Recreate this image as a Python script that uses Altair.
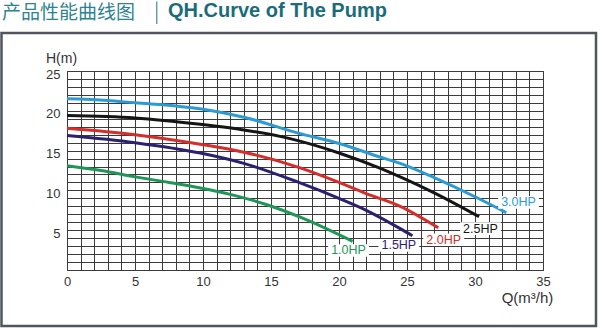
import altair as alt
import pandas as pd

# ---- data ----
series_names = ["3.0HP", "2.5HP", "2.0HP", "1.5HP", "1.0HP"]
series_colors = ["#2b9bd3", "#151515", "#d42d2a", "#2c2170", "#1f9558"]

q_30 = [0, 3, 5, 8, 10, 13, 17, 20, 23, 24.5, 27, 30, 32.3]
h_30 = [21.5, 21.3, 21.0, 20.6, 20.2, 19.2, 17.2, 15.9, 14.2, 13.4, 11.6, 9.2, 7.2]

q_25 = [0, 5, 9.8, 13, 16.4, 20, 23, 24.5, 27, 30.3]
h_25 = [19.4, 19.1, 18.3, 17.6, 16.5, 14.7, 12.8, 11.7, 9.7, 6.7]

q_20 = [0, 5, 9.8, 13, 17.2, 20, 22, 24.5, 27.3]
h_20 = [17.8, 17.0, 15.8, 14.8, 12.8, 11.0, 9.6, 8.0, 5.3]

q_15 = [0, 5, 9.8, 13, 16.9, 20, 22, 24.5, 25.4]
h_15 = [16.9, 16.0, 14.7, 13.4, 11.1, 9.0, 7.5, 5.2, 4.3]

q_10 = [0, 2.5, 5, 7.5, 9.8, 12, 14.7, 17.2, 21]
h_10 = [13.1, 12.5, 11.7, 11.0, 10.3, 9.5, 8.2, 6.6, 3.6]

label_q = [33.2, 30.4, 27.7, 24.4, 20.7]
label_h = [8.5, 5.2, 3.8, 3.1, 2.45]

x_ticks = list(range(0, 36))
y_ticks = list(range(0, 26))

# ---- tables ----
rows = []
for name, qs, hs in [("3.0HP", q_30, h_30), ("2.5HP", q_25, h_25), ("2.0HP", q_20, h_20),
                     ("1.5HP", q_15, h_15), ("1.0HP", q_10, h_10)]:
    for i, (q, h) in enumerate(zip(qs, hs)):
        rows.append({"series": name, "Q": q, "H": h, "order": i})
curves = pd.DataFrame(rows)

labels = pd.DataFrame({"series": series_names, "Q": label_q, "H": label_h})
labels["Q1"] = labels["Q"] - 1.5
labels["Q2"] = labels["Q"] + 1.5
labels["H1"] = labels["H"] - 0.8
labels["H2"] = labels["H"] + 0.8

color_scale = alt.Scale(domain=series_names, range=series_colors)
xs = alt.Scale(domain=[0, 35], nice=False, zero=False)
ys = alt.Scale(domain=[0, 25], nice=False, zero=False)

FONT = "Liberation Sans"

x_axis = alt.Axis(values=x_ticks, labelExpr="datum.value % 5 == 0 ? datum.label : ''",
                  grid=True, gridColor="#3a3a3a", gridWidth=1, gridOpacity=1,
                  ticks=False, domain=False, labelOverlap=False, labelFlush=False,
                  labelPadding=5, labelFontSize=13, labelFont=FONT, labelColor="#333333",
                  title="Q(m³/h)", titleFont=FONT, titleFontSize=15, titleFontWeight="normal",
                  titleColor="#333333", titleX=460, titleY=27, titleAlign="center",
                  titleBaseline="middle", zindex=0)
y_axis = alt.Axis(values=y_ticks, labelExpr="datum.value % 5 == 0 && datum.value > 0 ? datum.label : ''",
                  grid=True, gridColor="#3a3a3a", gridWidth=1, gridOpacity=1,
                  ticks=False, domain=False, labelOverlap=False, labelFlush=False,
                  labelPadding=7, labelFontSize=13, labelFont=FONT, labelColor="#333333",
                  labelOffset=3,
                  title="H(m)", titleFont=FONT, titleFontSize=14, titleFontWeight="normal",
                  titleColor="#333333", titleAngle=0, titleX=-6, titleY=-13,
                  titleAlign="center", titleBaseline="middle", zindex=0)

lines = alt.Chart(curves).mark_line(strokeWidth=3, interpolate="monotone").encode(
    x=alt.X("Q:Q", scale=xs, axis=x_axis),
    y=alt.Y("H:Q", scale=ys, axis=y_axis),
    color=alt.Color("series:N", scale=color_scale, legend=None),
    order="order:Q",
)

boxes = alt.Chart(labels).mark_rect(fill="white").encode(
    x=alt.X("Q1:Q", scale=xs, axis=x_axis), x2="Q2:Q",
    y=alt.Y("H1:Q", scale=ys, axis=y_axis), y2="H2:Q",
)

texts = alt.Chart(labels).mark_text(font=FONT, fontSize=12.5, align="center",
                                     baseline="middle").encode(
    x=alt.X("Q:Q", scale=xs, axis=x_axis), y=alt.Y("H:Q", scale=ys, axis=y_axis),
    text="series:N",
    color=alt.Color("series:N", scale=color_scale, legend=None),
)

one = alt.Data(values=[{"a": 1}])
frame = alt.Chart(one).mark_rect(filled=False, stroke="#50565c", strokeWidth=2.5).encode(
    x=alt.value(-65.5), x2=alt.value(529), y=alt.value(-38), y2=alt.value(255))

sep = alt.Chart(one).mark_rule(stroke="#6c9ba4", strokeWidth=1.5).encode(
    x=alt.value(89.7), y=alt.value(-69.5), y2=alt.value(-47))

title_cn = alt.Chart(one).mark_text(font="Noto Sans CJK SC", fontSize=19, align="left",
                                     baseline="alphabetic", color="#2f8290").encode(
    x=alt.value(-65), y=alt.value(-52), text=alt.value("产品性能曲线图"))

title_en = alt.Chart(one).mark_text(font=FONT, fontSize=20, fontWeight="bold", align="left",
                                     baseline="alphabetic", color="#1b6c7a").encode(
    x=alt.value(101), y=alt.value(-54.3), text=alt.value("QH.Curve of The Pump"))

chart = alt.layer(lines, boxes, texts, frame, sep, title_cn, title_en).properties(
    width=476, height=199,
    padding={"left": 67, "top": 71, "right": 57, "bottom": 58},
    autosize=alt.AutoSizeParams(type="none"),
    background="white",
).configure_view(stroke="#3a3a3a", strokeWidth=1)

chart.save("out.html", embed_options={"renderer": "svg", "actions": False})
